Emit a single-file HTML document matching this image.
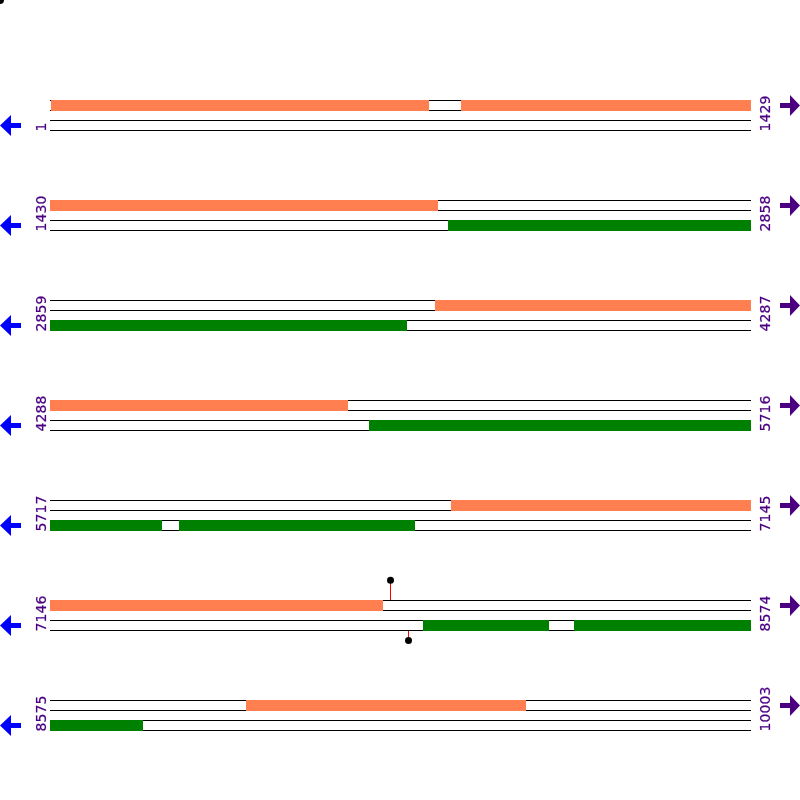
<!DOCTYPE html>
<html><head><meta charset="utf-8"><title>map</title>
<style>
html,body{margin:0;padding:0;background:#fff;}
svg{display:block;}
text{font-family:"DejaVu Sans","Liberation Sans",sans-serif;font-size:14px;letter-spacing:0.093px;fill:#4B0082;stroke:#4B0082;stroke-width:0.22px;}
</style></head><body>
<svg xmlns="http://www.w3.org/2000/svg" width="800" height="800" viewBox="0 0 800 800">
<rect x="0" y="0" width="800" height="800" fill="#ffffff"/>
<circle cx="0" cy="0" r="4" fill="#000"/>

<g>
<rect x="50" y="100" width="701" height="1" fill="#000" shape-rendering="crispEdges"/>
<rect x="50" y="110" width="701" height="1" fill="#000" shape-rendering="crispEdges"/>
<rect x="50" y="120" width="701" height="1" fill="#000" shape-rendering="crispEdges"/>
<rect x="50" y="130" width="701" height="1" fill="#000" shape-rendering="crispEdges"/>
<rect x="51" y="100" width="378" height="11" fill="#FF7F50" shape-rendering="crispEdges"/>
<rect x="461" y="100" width="290" height="11" fill="#FF7F50" shape-rendering="crispEdges"/>
<path d="M0 125.5 L11 115.0 L11 123.0 L21 123.0 L21 128.0 L11 128.0 L11 136.0 Z" fill="#0000FF"/>
<path d="M800 105.5 L790 95.0 L790 103.0 L780 103.0 L780 108.0 L790 108.0 L790 116.0 Z" fill="#4B0082"/>
<text transform="translate(46 131.5) rotate(-90)">1</text>
<text transform="translate(770 131.5) rotate(-90)">1429</text>
</g>
<g>
<rect x="50" y="200" width="701" height="1" fill="#000" shape-rendering="crispEdges"/>
<rect x="50" y="210" width="701" height="1" fill="#000" shape-rendering="crispEdges"/>
<rect x="50" y="220" width="701" height="1" fill="#000" shape-rendering="crispEdges"/>
<rect x="50" y="230" width="701" height="1" fill="#000" shape-rendering="crispEdges"/>
<rect x="50" y="200" width="388" height="11" fill="#FF7F50" shape-rendering="crispEdges"/>
<rect x="448" y="220" width="303" height="11" fill="#008000" shape-rendering="crispEdges"/>
<path d="M0 225.5 L11 215.0 L11 223.0 L21 223.0 L21 228.0 L11 228.0 L11 236.0 Z" fill="#0000FF"/>
<path d="M800 205.5 L790 195.0 L790 203.0 L780 203.0 L780 208.0 L790 208.0 L790 216.0 Z" fill="#4B0082"/>
<text transform="translate(46 231.5) rotate(-90)">1430</text>
<text transform="translate(770 231.5) rotate(-90)">2858</text>
</g>
<g>
<rect x="50" y="300" width="701" height="1" fill="#000" shape-rendering="crispEdges"/>
<rect x="50" y="310" width="701" height="1" fill="#000" shape-rendering="crispEdges"/>
<rect x="50" y="320" width="701" height="1" fill="#000" shape-rendering="crispEdges"/>
<rect x="50" y="330" width="701" height="1" fill="#000" shape-rendering="crispEdges"/>
<rect x="435" y="300" width="316" height="11" fill="#FF7F50" shape-rendering="crispEdges"/>
<rect x="50" y="320" width="357" height="11" fill="#008000" shape-rendering="crispEdges"/>
<path d="M0 325.5 L11 315.0 L11 323.0 L21 323.0 L21 328.0 L11 328.0 L11 336.0 Z" fill="#0000FF"/>
<path d="M800 305.5 L790 295.0 L790 303.0 L780 303.0 L780 308.0 L790 308.0 L790 316.0 Z" fill="#4B0082"/>
<text transform="translate(46 331.5) rotate(-90)">2859</text>
<text transform="translate(770 331.5) rotate(-90)">4287</text>
</g>
<g>
<rect x="50" y="400" width="701" height="1" fill="#000" shape-rendering="crispEdges"/>
<rect x="50" y="410" width="701" height="1" fill="#000" shape-rendering="crispEdges"/>
<rect x="50" y="420" width="701" height="1" fill="#000" shape-rendering="crispEdges"/>
<rect x="50" y="430" width="701" height="1" fill="#000" shape-rendering="crispEdges"/>
<rect x="50" y="400" width="298" height="11" fill="#FF7F50" shape-rendering="crispEdges"/>
<rect x="369" y="420" width="382" height="11" fill="#008000" shape-rendering="crispEdges"/>
<path d="M0 425.5 L11 415.0 L11 423.0 L21 423.0 L21 428.0 L11 428.0 L11 436.0 Z" fill="#0000FF"/>
<path d="M800 405.5 L790 395.0 L790 403.0 L780 403.0 L780 408.0 L790 408.0 L790 416.0 Z" fill="#4B0082"/>
<text transform="translate(46 431.5) rotate(-90)">4288</text>
<text transform="translate(770 431.5) rotate(-90)">5716</text>
</g>
<g>
<rect x="50" y="500" width="701" height="1" fill="#000" shape-rendering="crispEdges"/>
<rect x="50" y="510" width="701" height="1" fill="#000" shape-rendering="crispEdges"/>
<rect x="50" y="520" width="701" height="1" fill="#000" shape-rendering="crispEdges"/>
<rect x="50" y="530" width="701" height="1" fill="#000" shape-rendering="crispEdges"/>
<rect x="451" y="500" width="300" height="11" fill="#FF7F50" shape-rendering="crispEdges"/>
<rect x="50" y="520" width="112" height="11" fill="#008000" shape-rendering="crispEdges"/>
<rect x="179" y="520" width="236" height="11" fill="#008000" shape-rendering="crispEdges"/>
<path d="M0 525.5 L11 515.0 L11 523.0 L21 523.0 L21 528.0 L11 528.0 L11 536.0 Z" fill="#0000FF"/>
<path d="M800 505.5 L790 495.0 L790 503.0 L780 503.0 L780 508.0 L790 508.0 L790 516.0 Z" fill="#4B0082"/>
<text transform="translate(46 531.5) rotate(-90)">5717</text>
<text transform="translate(770 531.5) rotate(-90)">7145</text>
</g>
<g>
<rect x="50" y="600" width="701" height="1" fill="#000" shape-rendering="crispEdges"/>
<rect x="50" y="610" width="701" height="1" fill="#000" shape-rendering="crispEdges"/>
<rect x="50" y="620" width="701" height="1" fill="#000" shape-rendering="crispEdges"/>
<rect x="50" y="630" width="701" height="1" fill="#000" shape-rendering="crispEdges"/>
<rect x="50" y="600" width="333" height="11" fill="#FF7F50" shape-rendering="crispEdges"/>
<rect x="423" y="620" width="126" height="11" fill="#008000" shape-rendering="crispEdges"/>
<rect x="574" y="620" width="177" height="11" fill="#008000" shape-rendering="crispEdges"/>
<path d="M0 625.5 L11 615.0 L11 623.0 L21 623.0 L21 628.0 L11 628.0 L11 636.0 Z" fill="#0000FF"/>
<path d="M800 605.5 L790 595.0 L790 603.0 L780 603.0 L780 608.0 L790 608.0 L790 616.0 Z" fill="#4B0082"/>
<text transform="translate(46 631.5) rotate(-90)">7146</text>
<text transform="translate(770 631.5) rotate(-90)">8574</text>
</g>
<g>
<rect x="50" y="700" width="701" height="1" fill="#000" shape-rendering="crispEdges"/>
<rect x="50" y="710" width="701" height="1" fill="#000" shape-rendering="crispEdges"/>
<rect x="50" y="720" width="701" height="1" fill="#000" shape-rendering="crispEdges"/>
<rect x="50" y="730" width="701" height="1" fill="#000" shape-rendering="crispEdges"/>
<rect x="246" y="700" width="280" height="11" fill="#FF7F50" shape-rendering="crispEdges"/>
<rect x="50" y="720" width="93" height="11" fill="#008000" shape-rendering="crispEdges"/>
<path d="M0 725.5 L11 715.0 L11 723.0 L21 723.0 L21 728.0 L11 728.0 L11 736.0 Z" fill="#0000FF"/>
<path d="M800 705.5 L790 695.0 L790 703.0 L780 703.0 L780 708.0 L790 708.0 L790 716.0 Z" fill="#4B0082"/>
<text transform="translate(46 731.5) rotate(-90)">8575</text>
<text transform="translate(770 731.5) rotate(-90)">10003</text>
</g>
<rect x="390" y="580" width="1" height="20" fill="#FF0000" shape-rendering="crispEdges"/>
<circle cx="390.5" cy="580.25" r="3.5" fill="#000"/>
<rect x="408" y="631" width="1" height="10" fill="#FF0000" shape-rendering="crispEdges"/>
<circle cx="408.5" cy="640.4" r="3.5" fill="#000"/>
</svg></body></html>
